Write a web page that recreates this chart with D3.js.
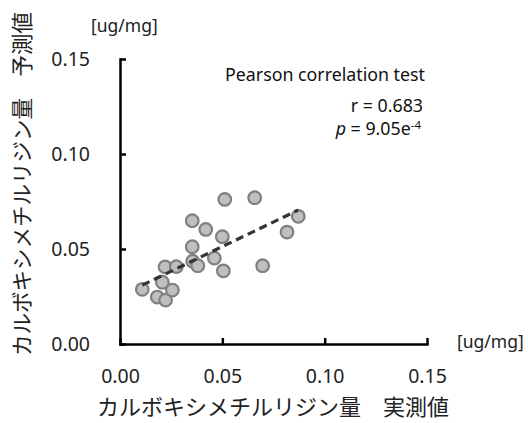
<!DOCTYPE html>
<html>
<head>
<meta charset="utf-8">
<script src="https://cdn.jsdelivr.net/npm/d3@7"></script>
<style>
  html, body { margin: 0; padding: 0; background: #fff; }
  svg { display: block; font-family: "Noto Sans", "Open Sans", sans-serif; }
  .jp { font-family: "Noto Sans CJK JP", "Noto Sans", sans-serif; }
</style>
</head>
<body>
<div id="chart"></div>
<script>
// 実測値 vs 予測値 [ug/mg]
const 実測値 = [0.0109, 0.0182, 0.0223, 0.0256, 0.0207, 0.0220, 0.0275, 0.0353, 0.0419, 0.0353,
  0.0355, 0.0380, 0.0461, 0.0500, 0.0505, 0.0512, 0.0658, 0.0697, 0.0816, 0.0871];
const 予測値 = [0.0288, 0.0247, 0.0231, 0.0284, 0.0325, 0.0406, 0.0407, 0.0649, 0.0603, 0.0512,
  0.0436, 0.0412, 0.0452, 0.0565, 0.0385, 0.0761, 0.0770, 0.0412, 0.0589, 0.0672];
// 回帰直線の端点
const 回帰X = [0.0109, 0.0871];
const 回帰Y = [0.0310, 0.0705];
const 目盛 = [0.00, 0.05, 0.10, 0.15];

const W = 528, H = 423;
const svg = d3.select('#chart').append('svg').attr('width', W).attr('height', H);

const x = d3.scaleLinear().domain([0, 0.15]).range([120, 427]);
const y = d3.scaleLinear().domain([0, 0.15]).range([344, 59]);

// 軸
const xAxis = d3.axisBottom(x).tickValues(目盛).tickFormat(d3.format('.2f'))
  .tickSizeInner(-6).tickSizeOuter(0).tickPadding(25);
const yAxis = d3.axisLeft(y).tickValues(目盛).tickFormat(d3.format('.2f'))
  .tickSizeInner(-6).tickSizeOuter(0).tickPadding(30);

const gx = svg.append('g').attr('transform', `translate(0,${y(0)})`).call(xAxis);
const gy = svg.append('g').attr('transform', `translate(${x(0)},0)`).call(yAxis);
[gx, gy].forEach(g => {
  g.select('.domain').attr('stroke', '#000').attr('stroke-width', 2.5).attr('stroke-linecap', 'square');
  g.selectAll('.tick line').attr('stroke', '#000').attr('stroke-width', 2.5);
  g.selectAll('.tick text').attr('font-size', 19.5).attr('fill', '#222')
    .attr('font-family', '"Noto Sans", "Open Sans", sans-serif');
});

// 点
svg.append('g').selectAll('circle')
  .data(実測値.map((v, i) => [v, 予測値[i]]))
  .join('circle')
  .attr('cx', d => x(d[0])).attr('cy', d => y(d[1])).attr('r', 6.3)
  .attr('fill', '#bfbfbf').attr('stroke', '#808080').attr('stroke-width', 2.2);

// 回帰直線
svg.append('line')
  .attr('x1', x(回帰X[0])).attr('y1', y(回帰Y[0]))
  .attr('x2', x(回帰X[1])).attr('y2', y(回帰Y[1]))
  .attr('stroke', '#333').attr('stroke-width', 3.2).attr('stroke-dasharray', '8 5');

// 単位
svg.append('text').attr('x', 91).attr('y', 26).attr('dy', '0.35em')
  .attr('font-size', 17.5).attr('fill', '#222').text('[ug/mg]');
svg.append('text').attr('x', 457).attr('y', 342).attr('dy', '0.35em')
  .attr('font-size', 17.5).attr('fill', '#222').text('[ug/mg]');

// 軸タイトル
svg.append('text').attr('class', 'jp').attr('x', 273).attr('y', 407).attr('dy', '0.35em')
  .attr('text-anchor', 'middle').attr('font-size', 22).attr('fill', '#222')
  .text('カルボキシメチルリジン量　実測値');
svg.append('text').attr('class', 'jp')
  .attr('transform', 'translate(22,184) rotate(-90)').attr('dy', '0.35em')
  .attr('text-anchor', 'middle').attr('font-size', 21.5).attr('fill', '#222')
  .text('カルボキシメチルリジン量　予測値');

// 相関検定
svg.append('text').attr('x', 425).attr('y', 75).attr('dy', '0.35em')
  .attr('text-anchor', 'end').attr('font-size', 17.8).attr('fill', '#111')
  .text('Pearson correlation test');
svg.append('text').attr('x', 423).attr('y', 106).attr('dy', '0.35em')
  .attr('text-anchor', 'end').attr('font-size', 17.8).attr('fill', '#111')
  .text('r = 0.683');
const pt = svg.append('text').attr('x', 421).attr('y', 129).attr('dy', '0.35em')
  .attr('text-anchor', 'end').attr('font-size', 17.8).attr('fill', '#111');
pt.append('tspan').attr('font-style', 'italic').text('p');
pt.append('tspan').text(' = 9.05e');
pt.append('tspan').attr('font-size', 11.5).attr('dy', '-0.55em').text('-4');
</script>
</body>
</html>
